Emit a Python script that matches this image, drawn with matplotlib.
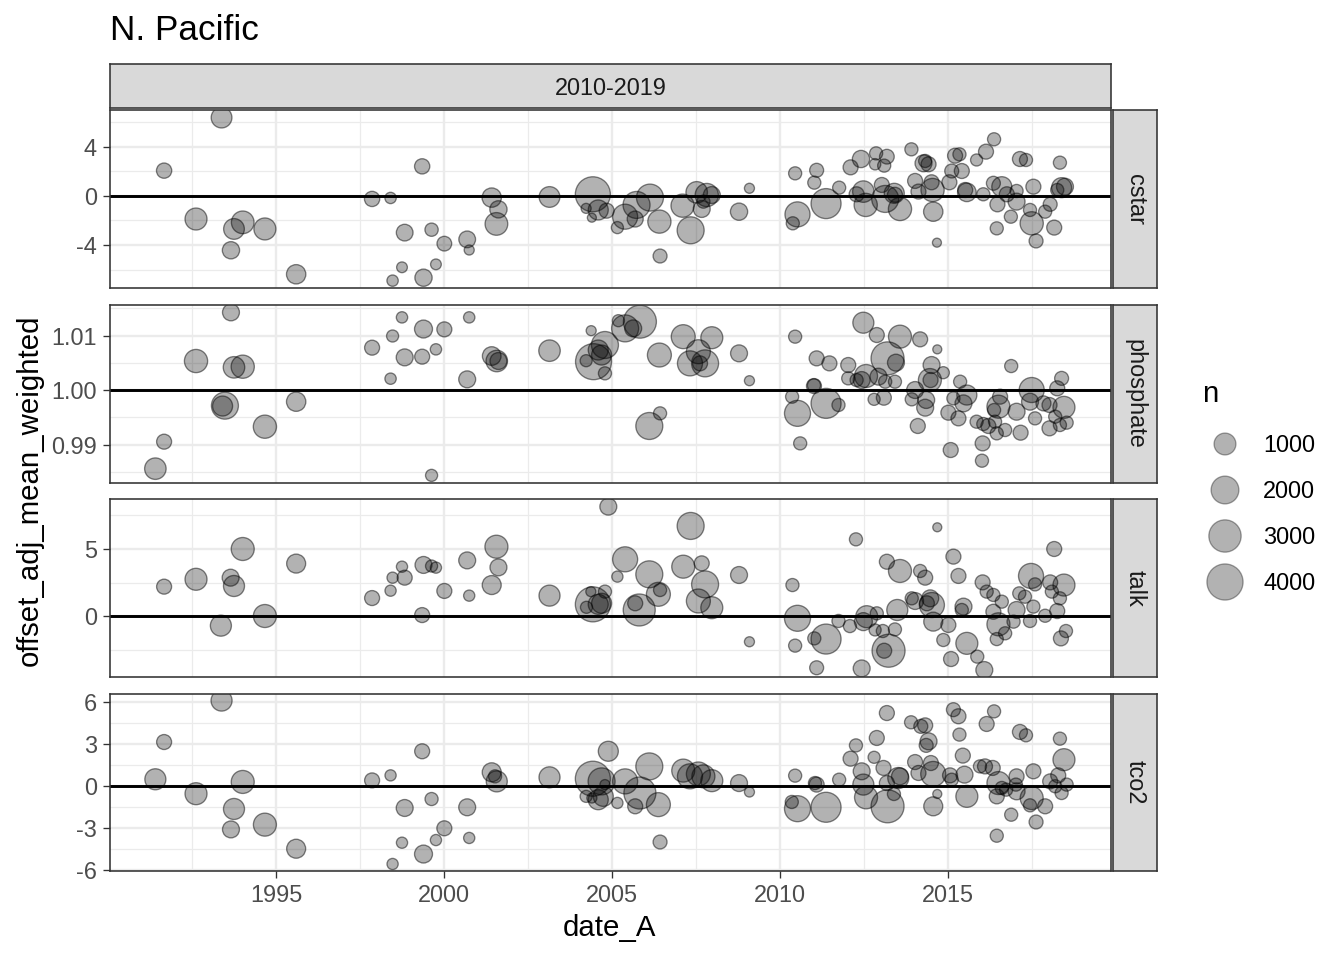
import matplotlib
matplotlib.use("Agg")
import matplotlib.pyplot as plt
import numpy as np

plt.rcParams['font.family'] = ['Liberation Sans', 'DejaVu Sans']
plt.rcParams['axes.unicode_minus'] = False

# ---------------- data ----------------
cstar_date = [1993.38, 1991.67, 1992.62, 1993.75, 1994.01, 1994.67, 1993.66, 1995.60, 1997.86, 1998.41,
              1999.35, 1998.83, 1999.63, 2000.01, 2000.69, 2000.75, 1998.75, 1999.76, 1998.47, 1999.39,
              2001.42, 2001.62, 2001.56, 2003.14, 2004.43, 2004.23, 2004.40, 2004.59, 2004.84, 2005.16,
              2005.39, 2005.73, 2005.69, 2006.13, 2006.41, 2006.43, 2007.10, 2007.34, 2007.52, 2007.82,
              2007.67, 2007.97, 2007.72, 2008.78, 2009.09, 2010.45, 2010.52, 2010.38, 2011.09, 2011.02,
              2011.37, 2011.76, 2012.10, 2012.41, 2012.86, 2013.18, 2012.83, 2013.10, 2012.28, 2012.48,
              2012.55, 2013.03, 2013.13, 2013.40, 2013.42, 2013.57, 2013.91, 2014.02, 2014.12, 2014.27,
              2014.42, 2014.32, 2014.51, 2014.54, 2014.56, 2014.67, 2015.04, 2015.11, 2015.21, 2015.34,
              2015.41, 2015.51, 2015.56, 2015.85, 2016.13, 2016.37, 2016.05, 2016.35, 2016.47, 2016.45,
              2016.60, 2016.75, 2016.87, 2017.04, 2017.04, 2017.14, 2017.32, 2017.54, 2017.44, 2017.49,
              2017.62, 2017.89, 2018.04, 2018.16, 2018.33, 2018.38, 2018.48, 2018.25]
cstar_value = [6.40, 2.07, -1.88, -2.69, -2.15, -2.69, -4.43, -6.39, -0.24, -0.16,
               2.42, -2.99, -2.75, -3.89, -3.54, -4.41, -5.82, -5.58, -6.91, -6.67,
               -0.13, -1.09, -2.28, -0.08, 0.14, -1.01, -1.77, -1.14, -1.20, -2.58,
               -1.69, -0.73, -1.88, -0.13, -2.09, -4.90, -0.79, -2.80, 0.30, 0.08,
               -1.06, 0.08, -0.46, -1.28, 0.63, 1.85, -1.50, -2.23, 2.10, 1.09,
               -0.62, 0.68, 2.34, 3.02, 3.48, 3.21, 2.59, 2.48, 0.14, 0.36,
               -0.73, 0.90, -0.24, 0.22, 0.10, -1.06, 3.81, 1.23, 0.36, 2.67,
               2.59, 2.86, 1.12, 0.49, -1.28, -3.81, 1.12, 2.04, 3.29, 3.40,
               2.04, 0.49, 0.30, 2.94, 3.62, 4.63, 0.14, 1.04, -0.68, -2.64,
               0.76, 0.14, -1.69, 0.41, -0.46, 3.02, 2.94, 0.76, -1.14, -2.23,
               -3.67, -1.28, -0.68, -2.58, 2.72, 0.68, 0.76, 0.49]
cstar_n = [850, 290, 1020, 850, 1120, 1020, 460, 680, 290, 70,
           290, 410, 160, 250, 410, 30, 50, 50, 70, 460,
           680, 460, 1120, 850, 3700, 30, 10, 760, 270, 100,
           1500, 1850, 350, 1850, 1200, 200, 1200, 1850, 950, 1200,
           430, 430, 150, 460, 30, 150, 1500, 150, 200, 150,
           2470, 150, 270, 460, 150, 250, 70, 150, 270, 950,
           1200, 270, 1850, 760, 270, 1200, 150, 270, 270, 430,
           270, 150, 270, 1200, 680, 10, 270, 200, 270, 150,
           270, 270, 600, 100, 270, 150, 150, 200, 270, 150,
           760, 270, 150, 150, 430, 270, 150, 270, 150, 1200,
           200, 150, 200, 270, 150, 760, 430, 150]

phosphate_date = [1993.66, 1992.62, 1993.75, 1994.01, 1993.48, 1993.41, 1994.67, 1995.60, 1991.67, 1991.41,
                  1998.75, 1998.47, 1999.39, 2000.01, 2000.75, 1997.86, 1998.83, 1999.35, 1999.76, 1998.41,
                  2000.69, 1999.63, 2001.42, 2001.57, 2001.62, 2003.14, 2004.38, 2004.45, 2004.23, 2004.59,
                  2004.79, 2004.69, 2004.79, 2005.19, 2005.39, 2005.63, 2005.83, 2006.41, 2007.12, 2007.57,
                  2007.32, 2007.77, 2007.62, 2007.97, 2008.78, 2009.09, 2006.43, 2006.11, 2010.45, 2012.48,
                  2012.88, 2013.57, 2014.17, 2014.68, 2013.20, 2013.45, 2011.09, 2011.47, 2012.03, 2012.03,
                  2012.28, 2012.56, 2012.43, 2012.93, 2013.13, 2013.42, 2011.01, 2011.01, 2010.36, 2010.52,
                  2010.60, 2011.37, 2011.74, 2012.80, 2013.09, 2014.51, 2014.46, 2014.48, 2014.86, 2014.02,
                  2013.92, 2014.35, 2014.32, 2014.10, 2015.36, 2015.16, 2015.56, 2015.46, 2015.01, 2015.31,
                  2015.08, 2015.85, 2016.05, 2016.20, 2016.40, 2016.45, 2016.03, 2016.01, 2016.55, 2016.50,
                  2016.37, 2016.70, 2016.88, 2017.04, 2017.16, 2017.49, 2017.44, 2017.59, 2017.84, 2018.02,
                  2018.02, 2018.25, 2018.38, 2018.45, 2018.19, 2018.33, 2018.53]
phosphate_value = [1.01425, 1.00532, 1.00416, 1.00428, 0.99713, 0.99706, 0.99327, 0.99786, 0.99052, 0.98557,
                   1.01333, 1.00991, 1.01119, 1.01113, 1.01333, 1.00777, 1.00599, 1.00612, 1.00746, 1.00208,
                   1.00196, 0.98434, 1.00624, 1.00532, 1.00532, 1.00722, 1.01089, 1.00520, 1.00538, 1.00734,
                   1.00826, 1.00642, 1.00306, 1.01272, 1.01131, 1.01131, 1.01254, 1.00642, 1.00979, 1.00703,
                   1.00489, 1.00489, 1.00489, 1.00960, 1.00673, 1.00171, 0.99572, 0.99340, 1.00979, 1.01235,
                   1.01009, 1.00979, 1.00930, 1.00746, 1.00581, 1.00502, 1.00581, 1.00489, 1.00459, 1.00214,
                   1.00183, 1.00257, 1.00183, 1.00245, 1.00153, 1.00153, 1.00073, 1.00085, 0.99878, 0.99572,
                   0.99021, 0.99755, 0.99725, 0.99829, 0.99859, 1.00459, 1.00183, 1.00183, 1.00318, 1.00000,
                   0.99829, 0.99817, 0.99676, 0.99340, 1.00153, 0.99847, 0.99908, 0.99755, 0.99584, 0.99480,
                   0.98899, 0.99419, 0.99376, 0.99340, 0.99419, 0.99205, 0.99021, 0.98703, 0.99878, 0.99694,
                   0.99633, 0.99266, 1.00440, 0.99602, 0.99217, 1.00000, 0.99786, 0.99480, 0.99755, 0.99725,
                   0.99297, 1.00031, 1.00214, 0.99682, 0.99511, 0.99358, 0.99401]
phosphate_n = [430, 1200, 950, 1200, 1850, 760, 1200, 680, 270, 950,
               70, 100, 530, 270, 70, 270, 430, 270, 70, 70,
               430, 100, 600, 950, 430, 950, 30, 3960, 100, 760,
               1850, 760, 150, 100, 1850, 430, 3170, 1320, 1320, 1320,
               1500, 1850, 270, 1020, 430, 30, 150, 1850, 150, 890,
               270, 1170, 270, 10, 3170, 430, 270, 270, 270, 150,
               150, 1170, 430, 430, 150, 150, 270, 150, 150, 1670,
               150, 2470, 150, 100, 270, 430, 1170, 270, 100, 430,
               150, 430, 430, 270, 150, 150, 760, 430, 270, 270,
               270, 150, 150, 270, 150, 150, 270, 150, 270, 1170,
               150, 150, 150, 430, 270, 1500, 430, 150, 270, 270,
               270, 270, 200, 1020, 150, 150, 150]

talk_date = [1991.67, 1992.62, 1993.65, 1993.75, 1994.01, 1993.36, 1994.67, 1995.60, 1997.86, 1998.41,
             1998.47, 1998.75, 1998.83, 1999.39, 1999.63, 1999.76, 1999.35, 2000.01, 2000.69, 2000.75,
             2001.56, 2001.62, 2001.42, 2003.14, 2004.43, 2004.37, 2004.24, 2004.59, 2004.89, 2004.79,
             2004.69, 2005.16, 2005.39, 2005.81, 2005.69, 2006.11, 2006.38, 2006.43, 2007.34, 2007.12,
             2007.67, 2007.77, 2007.57, 2007.97, 2008.78, 2009.09, 2010.37, 2010.52, 2010.45, 2011.02,
             2011.37, 2011.09, 2012.26, 2011.74, 2012.08, 2012.43, 2012.58, 2012.48, 2012.88, 2012.83,
             2013.06, 2013.23, 2013.10, 2013.42, 2013.49, 2013.18, 2013.57, 2014.17, 2014.32, 2014.68,
             2013.92, 2014.02, 2014.47, 2014.52, 2014.56, 2014.37, 2014.86, 2015.01, 2015.16, 2015.31,
             2015.46, 2015.41, 2015.56, 2015.09, 2015.87, 2016.08, 2016.03, 2016.15, 2016.35, 2016.35,
             2016.50, 2016.60, 2016.70, 2016.45, 2016.95, 2017.04, 2017.12, 2017.29, 2017.47, 2017.59,
             2017.54, 2017.44, 2017.89, 2018.04, 2018.16, 2018.09, 2018.45, 2018.33, 2018.25, 2018.51,
             2018.36]
talk_value = [2.19, 2.74, 2.86, 2.24, 5.00, -0.72, 0.00, 3.91, 1.34, 1.89,
              2.86, 3.68, 2.86, 3.81, 3.73, 3.61, 0.07, 1.87, 4.15, 1.52,
              5.17, 3.63, 2.31, 1.52, 0.87, 1.82, 0.65, 0.87, 8.16, 1.82,
              0.95, 2.94, 4.23, 0.45, 0.95, 3.11, 1.62, 1.94, 6.72, 3.68,
              3.93, 2.36, 1.12, 0.62, 3.06, -1.92, 2.31, -0.17, -2.21, -1.67,
              -1.72, -3.86, 5.72, -0.37, -0.75, -3.91, -0.05, -0.42, 0.20, -1.04,
              -1.12, -2.59, -2.59, -1.00, 0.45, 4.05, 3.36, 3.36, 2.86, 6.62,
              1.32, 1.12, 1.32, 0.82, -0.42, 0.95, -1.79, -0.67, 4.43, 2.99,
              0.70, 0.45, -2.04, -3.21, -3.03, -4.03, 2.51, 1.82, 1.57, 0.32,
              -0.62, 1.07, -1.29, -1.72, -0.42, 0.45, 1.69, 1.44, 2.99, 2.36,
              0.70, -0.37, 0.02, 2.51, 5.00, 1.82, 2.31, 1.32, 0.37, -1.12,
              -1.67]
talk_n = [270, 1020, 430, 890, 1170, 890, 1170, 640, 270, 65,
          65, 65, 270, 430, 100, 65, 270, 270, 430, 65,
          1170, 430, 640, 890, 3700, 30, 100, 760, 430, 150,
          760, 65, 1500, 2930, 270, 1850, 1320, 150, 1850, 1170,
          270, 1850, 1320, 1020, 430, 30, 150, 1670, 150, 150,
          2470, 200, 150, 150, 150, 430, 1020, 530, 150, 100,
          150, 3170, 270, 150, 890, 270, 1170, 150, 270, 10,
          150, 430, 430, 1500, 640, 270, 150, 270, 270, 270,
          430, 150, 1020, 270, 150, 430, 270, 150, 150, 270,
          1170, 150, 150, 150, 150, 430, 150, 150, 1500, 150,
          150, 150, 150, 270, 270, 150, 1020, 150, 270, 150,
          270]

tco2_date = [1993.38, 1991.67, 1991.41, 1992.62, 1994.01, 1993.75, 1993.66, 1994.67, 1995.60, 1997.86,
             1998.41, 1999.35, 1998.83, 1999.63, 2000.69, 2000.01, 1998.75, 1999.76, 2000.75, 1999.39,
             1998.47, 2001.42, 2001.57, 2001.52, 2003.14, 2004.43, 2004.23, 2004.40, 2004.59, 2004.79,
             2004.89, 2004.69, 2004.74, 2005.16, 2005.39, 2005.83, 2005.69, 2006.11, 2006.38, 2006.43,
             2007.12, 2007.32, 2007.57, 2007.72, 2007.97, 2008.78, 2009.09, 2010.45, 2010.35, 2010.52,
             2011.04, 2011.09, 2011.37, 2011.76, 2012.10, 2012.26, 2012.43, 2012.48, 2012.56, 2012.88,
             2012.80, 2013.08, 2013.20, 2013.18, 2013.39, 2013.52, 2013.57, 2013.18, 2013.90, 2014.19,
             2014.32, 2014.42, 2014.35, 2014.02, 2014.12, 2014.49, 2014.56, 2014.68, 2014.56, 2015.16,
             2015.31, 2015.34, 2015.44, 2015.06, 2015.11, 2015.49, 2015.56, 2016.15, 2016.37, 2015.95,
             2016.10, 2016.33, 2016.50, 2016.45, 2016.60, 2016.73, 2016.88, 2016.45, 2017.04, 2017.02,
             2017.04, 2017.14, 2017.32, 2017.54, 2017.49, 2017.44, 2017.62, 2017.89, 2018.04, 2018.19,
             2018.28, 2018.33, 2018.45, 2018.53, 2018.38]
tco2_value = [6.10, 3.14, 0.48, -0.55, 0.29, -1.64, -3.10, -2.76, -4.48, 0.40,
              0.76, 2.48, -1.57, -0.93, -1.52, -3.02, -4.05, -3.86, -3.71, -4.86,
              -5.57, 0.98, 0.33, 0.69, 0.62, 0.52, -0.74, -0.86, -0.98, 0.10,
              2.48, 0.33, -0.74, -1.21, 0.33, -0.50, -1.45, 1.40, -1.33, -4.00,
              1.10, 0.69, 0.86, 0.69, 0.38, 0.21, -0.43, 0.74, -1.14, -1.62,
              0.21, 0.10, -1.52, 0.45, 1.95, 2.90, 1.05, 0.10, -0.81, 3.43,
              2.05, 1.29, -1.45, 5.21, -0.57, 0.57, 0.69, 0.21, 4.55, 4.26,
              4.33, 3.19, 2.90, 1.71, 0.93, 1.64, 0.86, -0.57, -1.45, 5.45,
              4.98, 3.67, 2.17, 0.76, 0.45, 0.81, -0.74, 4.43, 5.33, 1.40,
              1.40, 1.29, 0.21, -0.74, -0.14, -0.26, -2.05, -3.55, 0.69, 0.10,
              -0.38, 3.86, 3.62, 1.05, -0.86, -1.38, -2.57, -1.45, 0.33, -0.02,
              0.76, 3.38, 1.88, 0.10, -0.50]
tco2_n = [890, 270, 890, 1020, 1170, 890, 430, 1170, 640, 270,
          65, 270, 430, 150, 430, 270, 65, 65, 65, 530,
          65, 640, 890, 150, 890, 3700, 100, 30, 760, 30,
          760, 1850, 760, 65, 1500, 2930, 270, 1850, 1320, 200,
          1170, 1500, 1320, 1170, 1020, 430, 30, 150, 150, 1670,
          150, 270, 2470, 150, 270, 150, 430, 890, 1170, 270,
          100, 270, 3170, 270, 150, 890, 430, 270, 150, 200,
          270, 430, 200, 270, 270, 270, 1500, 10, 640, 200,
          270, 150, 270, 270, 150, 430, 1020, 270, 150, 150,
          270, 270, 1170, 270, 150, 150, 150, 150, 270, 150,
          430, 270, 150, 270, 1170, 150, 200, 270, 270, 150,
          270, 150, 1020, 150, 150]

facets = ["cstar", "phosphate", "talk", "tco2"]
facet_data = {
    "cstar": (cstar_date, cstar_value, cstar_n),
    "phosphate": (phosphate_date, phosphate_value, phosphate_n),
    "talk": (talk_date, talk_value, talk_n),
    "tco2": (tco2_date, tco2_value, tco2_n),
}
y_major = {
    "cstar": [-4, 0, 4],
    "phosphate": [0.99, 1.00, 1.01],
    "talk": [0, 5],
    "tco2": [-6, -3, 0, 3, 6],
}
y_minor = {
    "cstar": [-6, -2, 2, 6],
    "phosphate": [0.985, 0.995, 1.005, 1.015],
    "talk": [-2.5, 2.5, 7.5],
    "tco2": [-4.5, -1.5, 1.5, 4.5],
}
y_labels = {
    "cstar": ["-4", "0", "4"],
    "phosphate": ["0.99", "1.00", "1.01"],
    "talk": ["0", "5"],
    "tco2": ["-6", "-3", "0", "3", "6"],
}
y_limits = {
    "cstar": (-7.51, 7.02),
    "phosphate": (0.98294, 1.0156),
    "talk": (-4.55, 8.73),
    "tco2": (-6.07, 6.57),
}
hline_value = {"cstar": 0, "phosphate": 1, "talk": 0, "tco2": 0}
x_major = [1995, 2000, 2005, 2010, 2015]
x_minor = [1992.5, 1997.5, 2002.5, 2007.5, 2012.5, 2017.5]
x_limits = (1990.06, 2019.85)
legend_breaks = [1000, 2000, 3000, 4000]

# ---------------- layout ----------------
W, H = 1344, 960
DPI = 192
fig = plt.figure(figsize=(W / DPI, H / DPI), dpi=DPI)
fig.patch.set_facecolor("white")

N_MAX = 7000.0


def size_pts2(n):
    d_px = 7.56 + 37.8 * np.sqrt(np.asarray(n, dtype=float) / N_MAX)
    d_pt = d_px * 72.0 / DPI
    return d_pt ** 2


FILL = (0, 0, 0, 0.30)
EDGE = (0, 0, 0, 0.48)
GRID = "#ebebeb"
BORDER = "#333333"
TICKCOL = "#4d4d4d"

panel_left, panel_right = 110, 1111
panel_rows = [(110, 288), (305, 483), (499, 677), (694, 871)]


def fx(px):
    return px / W


def fy(py):
    return 1 - py / H


for i, name in enumerate(facets):
    top, bot = panel_rows[i]
    ax = fig.add_axes([fx(panel_left), fy(bot), fx(panel_right - panel_left), (bot - top) / H])
    d, v, n = facet_data[name]
    ax.set_xlim(*x_limits)
    ax.set_ylim(*y_limits[name])
    # grid
    for xm in x_minor:
        ax.axvline(xm, color=GRID, lw=0.45, zorder=0)
    for ym in y_minor[name]:
        ax.axhline(ym, color=GRID, lw=0.45, zorder=0)
    for xm in x_major:
        ax.axvline(xm, color=GRID, lw=0.9, zorder=0)
    for ym in y_major[name]:
        ax.axhline(ym, color=GRID, lw=0.9, zorder=0)
    ax.axhline(hline_value[name], color="black", lw=1.1, zorder=1)
    ax.scatter(d, v, s=size_pts2(n), facecolor=FILL, edgecolor=EDGE, linewidths=0.5, zorder=2)
    ax.set_yticks(y_major[name])
    ax.set_yticklabels(y_labels[name])
    ax.set_xticks(x_major)
    ax.set_xticklabels([str(x) for x in x_major])
    ax.tick_params(axis="both", which="major", length=2.75, width=0.5, color=BORDER,
                   labelsize=8.8, labelcolor=TICKCOL, pad=2.2)
    if i < len(facets) - 1:
        ax.tick_params(axis="x", bottom=False, labelbottom=False)
    for sp in ax.spines.values():
        sp.set_color(BORDER)
        sp.set_linewidth(0.6)

    # right strip
    sax = fig.add_axes([fx(1113), fy(bot), fx(44), (bot - top) / H])
    sax.set_facecolor("#d9d9d9")
    sax.set_xticks([])
    sax.set_yticks([])
    for sp in sax.spines.values():
        sp.set_color(BORDER)
        sp.set_linewidth(0.6)
    sax.text(0.5, 0.5, name, rotation=-90, ha="center", va="center", fontsize=8.8,
             color="#1a1a1a", transform=sax.transAxes)

# top strip
tax = fig.add_axes([fx(panel_left), fy(108), fx(panel_right - panel_left), 44 / H])
tax.set_facecolor("#d9d9d9")
tax.set_xticks([])
tax.set_yticks([])
for sp in tax.spines.values():
    sp.set_color(BORDER)
    sp.set_linewidth(0.6)
tax.text(0.5, 0.44, "2010-2019", ha="center", va="center", fontsize=8.8, color="#1a1a1a",
         transform=tax.transAxes)

# titles
fig.text(fx(110), fy(30), "N. Pacific", ha="left", va="center", fontsize=13.2, color="black")
fig.text(fx(610), fy(928), "date_A", ha="center", va="center", fontsize=11, color="black")
fig.text(fx(30), fy(490), "offset_adj_mean_weighted", ha="center", va="center",
         rotation=90, fontsize=11, color="black")

# legend
lax = fig.add_axes([0, 0, 1, 1], facecolor="none")
lax.set_xlim(0, W)
lax.set_ylim(H, 0)
lax.axis("off")
lax.text(1202, 394, "n", ha="left", va="center", fontsize=11, color="black")
key_y = [444, 490, 536, 582]
lax.scatter([1225] * len(legend_breaks), key_y, s=size_pts2(legend_breaks),
            facecolor=FILL, edgecolor=(0, 0, 0, 0.35), linewidths=0.5)
for yk, b in zip(key_y, legend_breaks):
    lax.text(1263, yk + 1.5, str(b), ha="left", va="center", fontsize=8.8, color="black")

fig.savefig("out.png", dpi=DPI, facecolor="white")
